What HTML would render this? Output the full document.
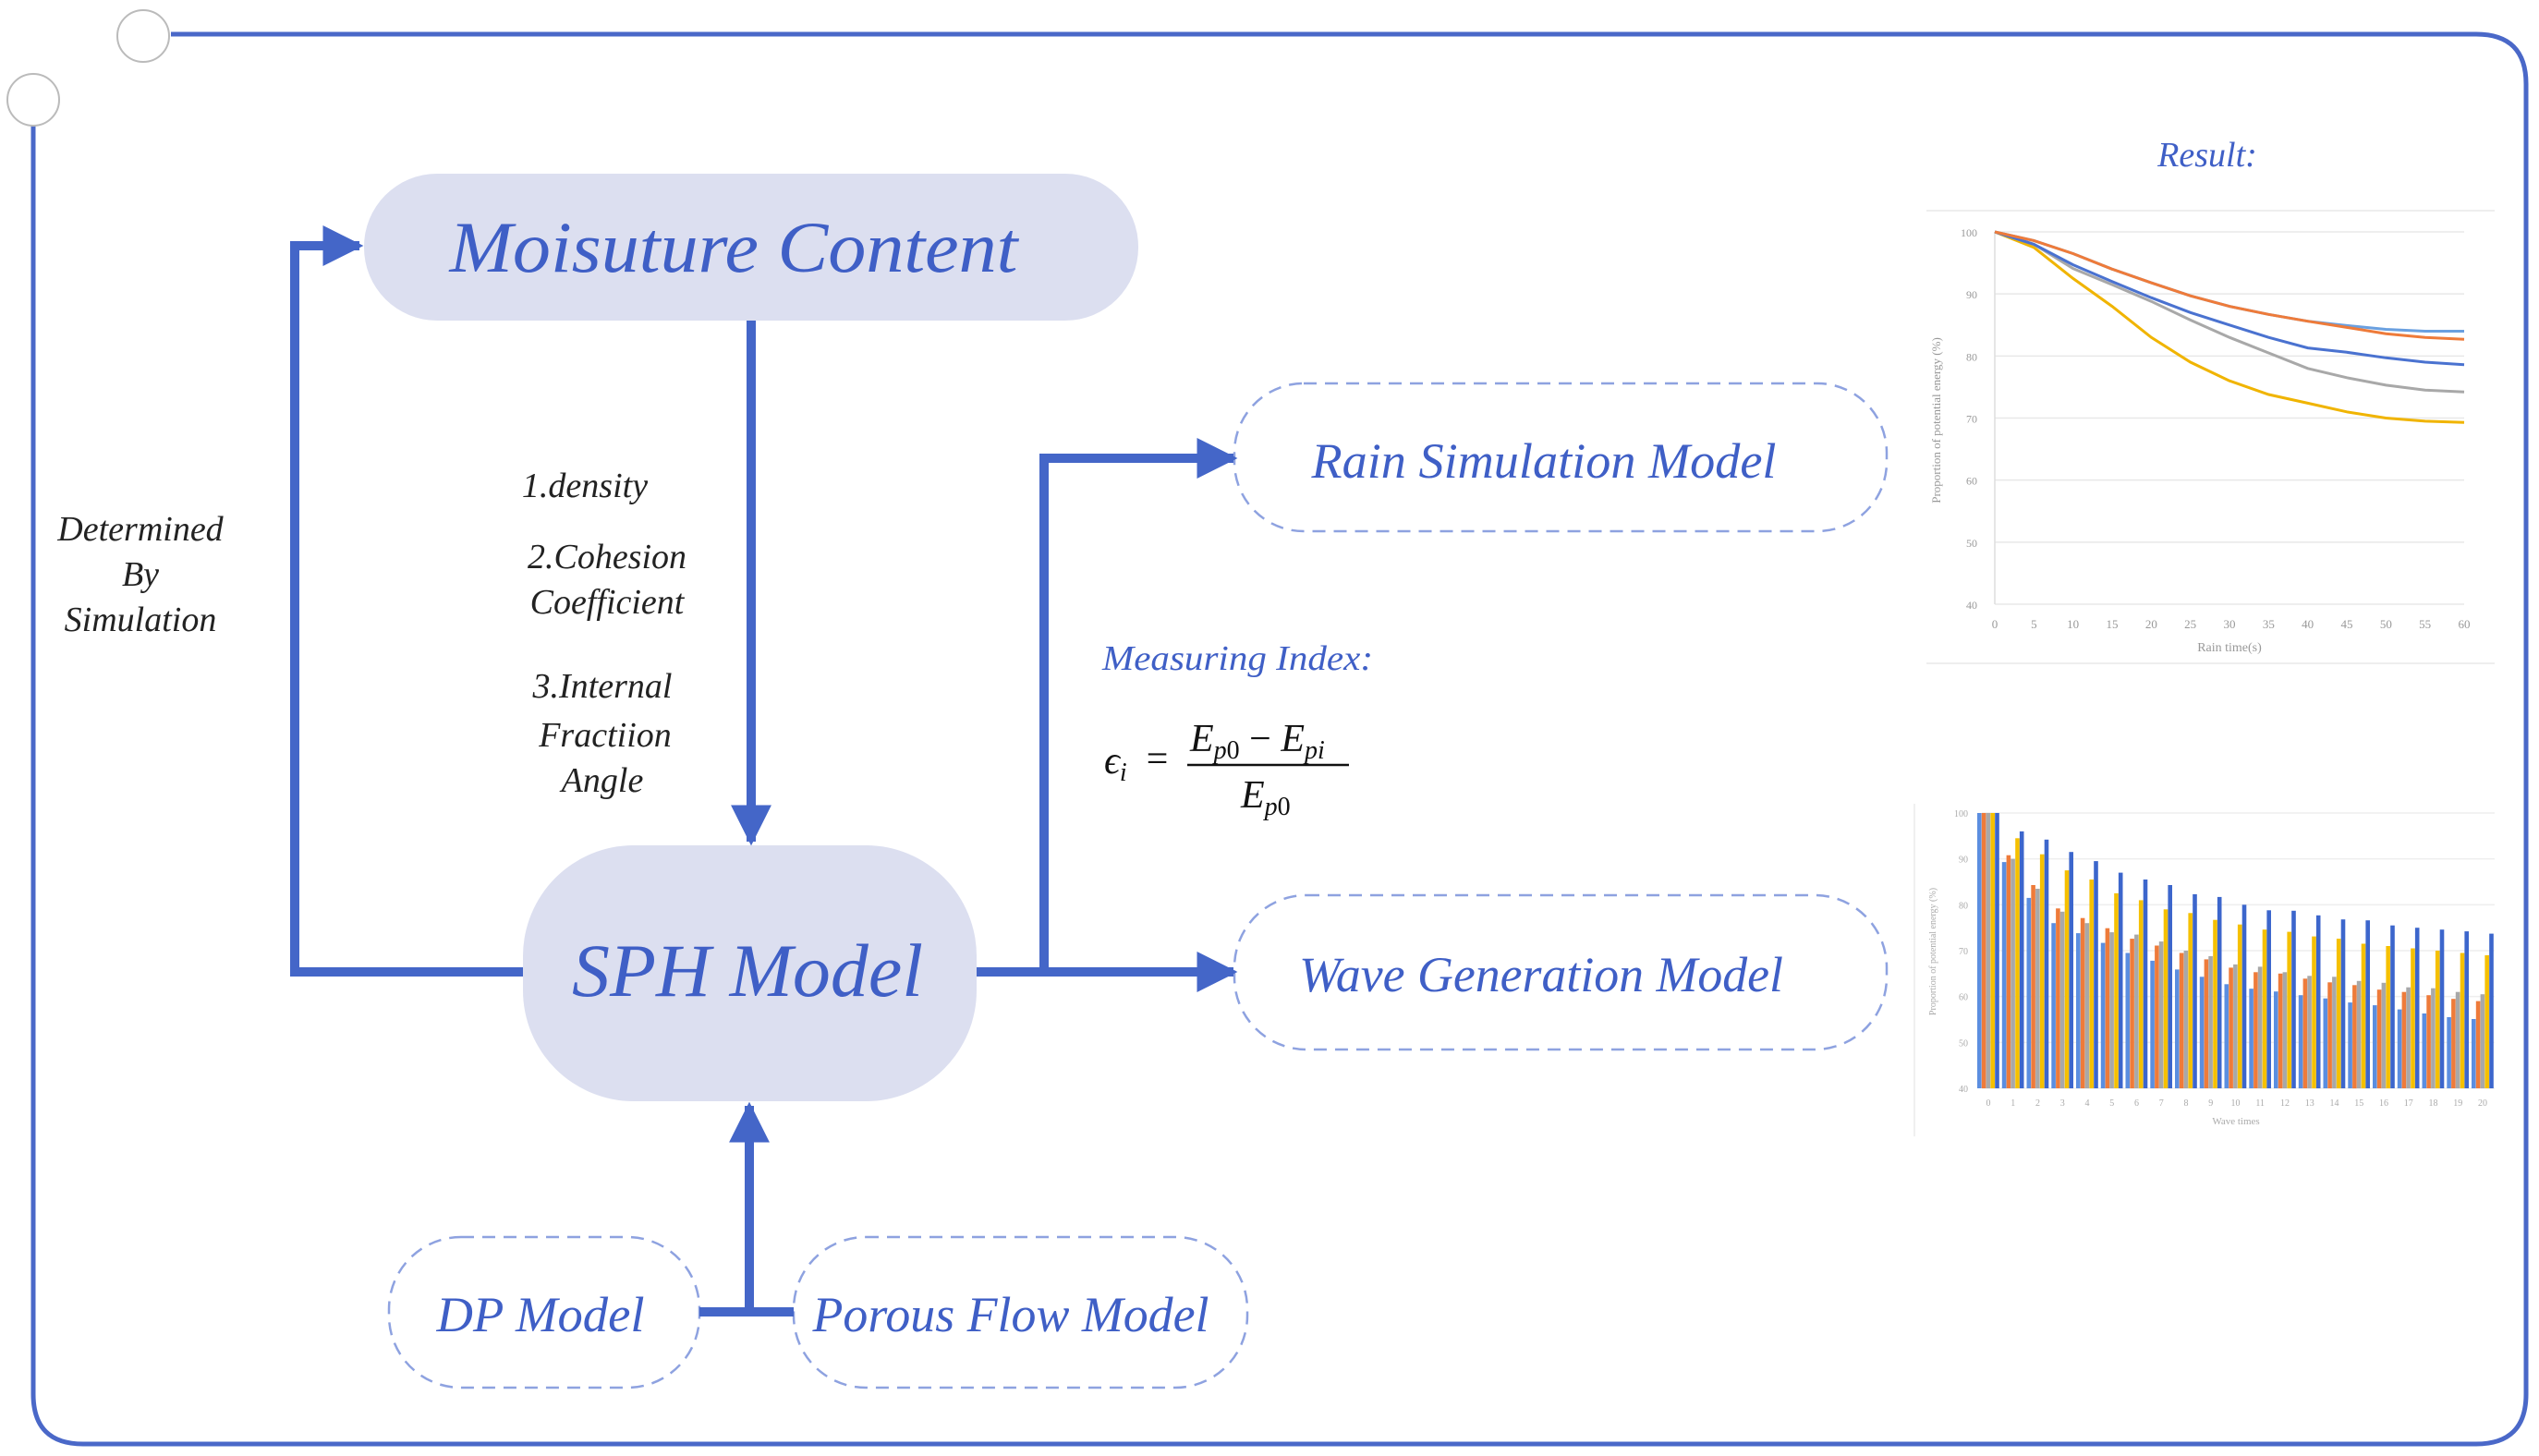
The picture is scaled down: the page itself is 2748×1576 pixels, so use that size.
<!DOCTYPE html>
<html><head><meta charset="utf-8"><style>
html,body{margin:0;padding:0;background:#fff;}
svg{display:block;}
text{font-family:"Liberation Serif",serif;font-style:italic;}
</style></head><body>
<svg id="s" width="2748" height="1576" viewBox="0 0 2748 1576" xmlns="http://www.w3.org/2000/svg">
<defs>
<marker id="ah" viewBox="0 0 10 10" refX="9" refY="5" markerWidth="4.4" markerHeight="4.4" orient="auto" markerUnits="strokeWidth"><path d="M0,0 L10,5 L0,10 z" fill="#4466c8"/></marker>
</defs>
<path d="M185,37 H2680 Q2734,37 2734,91 V1509 Q2734,1563 2680,1563 H90 Q36,1563 36,1509 V135" fill="none" stroke="#4a68c8" stroke-width="5"/>
<circle cx="155" cy="39" r="28" fill="#fff" stroke="#bbb" stroke-width="2"/>
<circle cx="36" cy="108" r="28" fill="#fff" stroke="#bbb" stroke-width="2"/>

<rect x="394" y="188" width="838" height="159" rx="79" fill="#dcdff0"/>
<rect x="566" y="915" width="491" height="277" rx="120" fill="#dcdff0"/>
<text x="794" y="294" font-size="78" fill="#3f5fc6" text-anchor="middle" textLength="615" lengthAdjust="spacingAndGlyphs">Moisuture Content</text>
<text x="809" y="1078" font-size="82" fill="#3f5fc6" text-anchor="middle" textLength="380" lengthAdjust="spacingAndGlyphs">SPH Model</text>

<g fill="none" stroke="#8ea2e0" stroke-width="2.5" stroke-dasharray="14,9">
<rect x="1336" y="415" width="706" height="160" rx="75"/>
<rect x="1336" y="969" width="706" height="167" rx="78"/>
<rect x="421" y="1339" width="336" height="163" rx="78"/>
<rect x="859" y="1339" width="491" height="163" rx="78"/>
</g>
<text x="1671" y="517" font-size="54" fill="#3f5fc6" text-anchor="middle" textLength="503" lengthAdjust="spacingAndGlyphs">Rain Simulation Model</text>
<text x="1668" y="1073" font-size="54" fill="#3f5fc6" text-anchor="middle" textLength="524" lengthAdjust="spacingAndGlyphs">Wave Generation Model</text>
<text x="585" y="1441" font-size="54" fill="#3f5fc6" text-anchor="middle" textLength="225" lengthAdjust="spacingAndGlyphs">DP Model</text>
<text x="1094" y="1441" font-size="54" fill="#3f5fc6" text-anchor="middle" textLength="429" lengthAdjust="spacingAndGlyphs">Porous Flow Model</text>

<g fill="none" stroke="#4466c8" stroke-width="10">
<path d="M813,347 V911" marker-end="url(#ah)"/>
<path d="M566,1052 H319 V266 H389" marker-end="url(#ah)"/>
<path d="M1057,1052 H1335" marker-end="url(#ah)"/>
<path d="M1130,1052 V496 H1335" marker-end="url(#ah)"/>
<path d="M811,1420 V1197" marker-end="url(#ah)"/>
<path d="M757,1420 H859"/>
</g>

<g font-size="38" fill="#222" text-anchor="middle">
<text x="152" y="585">Determined</text>
<text x="152" y="634">By</text>
<text x="152" y="683">Simulation</text>
<text x="633" y="538">1.density</text>
<text x="657" y="615">2.Cohesion</text>
<text x="657" y="664">Coefficient</text>
<text x="652" y="755">3.Internal</text>
<text x="655" y="808">Fractiion</text>
<text x="652" y="857">Angle</text>
</g>
<text x="1193" y="725" font-size="38" fill="#3f5fc6" textLength="293" lengthAdjust="spacingAndGlyphs">Measuring Index:</text>
<text x="2389" y="180" font-size="38" fill="#3f5fc6" text-anchor="middle">Result:</text>

<g font-size="42" fill="#111">
<text x="1195" y="837">ϵ<tspan font-size="28" dy="8">i</tspan></text>
<text x="1238" y="835" font-style="normal">=</text>
<text x="1288" y="813">E<tspan font-size="28" dy="8">p</tspan><tspan font-size="28" font-style="normal">0</tspan><tspan dy="-8" font-style="normal"> − </tspan>E<tspan font-size="28" dy="8">pi</tspan></text>
<text x="1343" y="874">E<tspan font-size="28" dy="8">p</tspan><tspan font-size="28" font-style="normal">0</tspan></text>
</g>
<line x1="1285" y1="828" x2="1460" y2="828" stroke="#111" stroke-width="2.5"/>

<g id="charts"></g>
</svg>
<script>
(function(){
var g=document.getElementById('charts'),h='';
var x0=2159,x1=2667,y100=251,y40=654;
function Y(v){return y100+(100-v)/60*(y40-y100);}
h+='<line x1="2085" y1="228" x2="2700" y2="228" stroke="#eee" stroke-width="2"/>';
h+='<line x1="2085" y1="718" x2="2700" y2="718" stroke="#eee" stroke-width="2"/>';
for(var v=40;v<=100;v+=10){h+='<line x1="'+x0+'" y1="'+Y(v)+'" x2="'+x1+'" y2="'+Y(v)+'" stroke="#e8e8e8" stroke-width="1.5"/>';
h+='<text x="2140" y="'+(Y(v)+5)+'" font-size="12" fill="#999" style="font-style:normal" text-anchor="end">'+v+'</text>';}
h+='<line x1="'+x0+'" y1="'+y100+'" x2="'+x0+'" y2="'+y40+'" stroke="#ddd" stroke-width="1.5"/>';
for(var t=0;t<=60;t+=5){h+='<text x="'+(x0+t/60*(x1-x0))+'" y="680" font-size="13" fill="#999" style="font-style:normal" text-anchor="middle">'+t+'</text>';}
h+='<text x="2413" y="705" font-size="14" fill="#999" style="font-style:normal" text-anchor="middle">Rain time(s)</text>';
h+='<text transform="translate(2100,455) rotate(-90)" font-size="13" fill="#999" style="font-style:normal" text-anchor="middle">Proportion of potential energy (%)</text>';
var S=[
['#f0b400',[100,97.5,92.5,88,83,79,76,73.8,72.4,71,70,69.5,69.3]],
['#a8a8a8',[100,98,94.1,91.5,88.8,85.8,83,80.5,78,76.5,75.3,74.5,74.2]],
['#4a72d0',[100,98,94.7,92,89.4,87,85,83,81.3,80.6,79.7,79,78.6]],
['#6aa0e0',[100,98.6,96.5,94,91.8,89.7,88,86.7,85.6,84.9,84.3,84,84]],
['#ee7b3a',[100,98.6,96.5,94,91.8,89.7,88,86.7,85.6,84.6,83.6,83,82.7]]];
S.forEach(function(s){var p=[];s[1].forEach(function(v,i){p.push((x0+i*5/60*(x1-x0)).toFixed(1)+','+Y(v).toFixed(1));});
h+='<polyline points="'+p.join(' ')+'" fill="none" stroke="'+s[0]+'" stroke-width="3"/>';});
var b100=880,b40=1178;function B(v){return b100+(100-v)/60*(b40-b100);}
h+='<line x1="2072" y1="870" x2="2072" y2="1230" stroke="#f0f0f0" stroke-width="2"/>';
for(var v=40;v<=100;v+=10){h+='<line x1="2145" y1="'+B(v)+'" x2="2700" y2="'+B(v)+'" stroke="#eee" stroke-width="1.5"/>';
h+='<text x="2130" y="'+(B(v)+4)+'" font-size="10" fill="#aaa" style="font-style:normal" text-anchor="end">'+v+'</text>';}
var D=[
['#5b8ee0',[100,89.3,81.5,76,73.8,71.7,69.5,67.8,65.9,64.3,62.7,61.7,61.1,60.3,59.6,58.7,58.1,57.2,56.3,55.5,55.1]],
['#ee7b3a',[100,90.8,84.3,79.2,77.1,74.9,72.6,71.1,69.5,68.1,66.3,65.3,65,63.9,63.1,62.5,61.5,61,60.3,59.5,59]],
['#a8a8a8',[100,90,83.5,78.5,76,74,73.5,72,70,68.8,67,66.5,65.3,64.5,64.3,63.4,63,62,61.8,61,60.5]],
['#f5c000',[100,94.5,91,87.5,85.5,82.5,81,79,78.2,76.7,75.7,74.6,74.1,73.1,72.6,71.5,71,70.5,70,69.5,69]],
['#3c66cc',[100,96,94.2,91.5,89.5,87,85.5,84.3,82.3,81.7,80,78.8,78.7,77.7,76.8,76.6,75.5,75,74.6,74.2,73.7]]];
var gx0=2152,gx1=2687,gw=(gx1-gx0)/20;
for(var i=0;i<=20;i++){var cx=gx0+i*gw;
D.forEach(function(d,k){var y=B(d[1][i]);h+='<rect x="'+(cx-12+k*4.8).toFixed(1)+'" y="'+y.toFixed(1)+'" width="4.6" height="'+(b40-y).toFixed(1)+'" fill="'+d[0]+'"/>';});
h+='<text x="'+cx+'" y="1197" font-size="10" fill="#aaa" style="font-style:normal" text-anchor="middle">'+i+'</text>';}
h+='<text x="2420" y="1217" font-size="11" fill="#aaa" style="font-style:normal" text-anchor="middle">Wave times</text>';
h+='<text transform="translate(2095,1030) rotate(-90)" font-size="10" fill="#aaa" style="font-style:normal" text-anchor="middle">Proportion of potential energy (%)</text>';
g.innerHTML=h;
})();
</script>
</body></html>
